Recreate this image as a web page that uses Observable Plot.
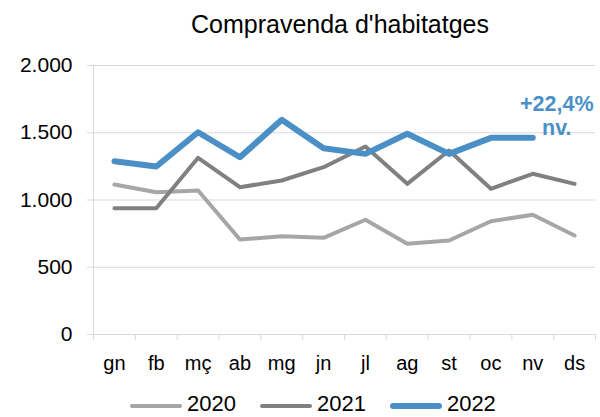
<!DOCTYPE html>
<html>
<head>
<meta charset="utf-8">
<script src="https://cdn.jsdelivr.net/npm/d3@7"></script>
<script src="https://cdn.jsdelivr.net/npm/@observablehq/plot@0.6"></script>
<style>
  html, body { margin: 0; padding: 0; background: #fff; }
  body { font-family: "Liberation Sans", Arial, sans-serif; width: 600px; height: 417px; overflow: hidden; }
  #title { width: 520px; padding-left: 80px; height: 38px; padding-top: 12px; font-size: 25px; line-height: 25px; text-align: center; color: #000; }
  #chart svg { display: block; }
  #legend { height: 32px; display: flex; align-items: center; padding-left: 130px; font-size: 22px; line-height: 22px; color: #000; box-sizing: border-box; padding-top: 5px; }
  .item { display: flex; align-items: center; margin-right: 24px; }
  .sw { width: 52px; margin-right: 5px; border-radius: 3px; position: relative; top: 2px; }
</style>
</head>
<body>
<div id="title">Compravenda d'habitatges</div>
<div id="chart"></div>
<div id="legend"></div>
<script>
const months = ["gn","fb","mç","ab","mg","jn","jl","ag","st","oc","nv","ds"];
const v2020 = [1115,1058,1071,706,731,719,853,674,699,842,890,736];
const v2021 = [939,939,1314,1095,1145,1244,1398,1120,1368,1083,1195,1120];
const v2022 = [1288,1249,1504,1318,1596,1385,1343,1492,1343,1462,1462];
const yTicks = [0,500,1000,1500,2000];
const seriesNames = ["2020","2021","2022"];
const seriesColors = ["#a6a6a6","#808080","#4a90c6"];
const seriesWidths = [4,4,6];
const annotationLines = ["+22,4%", "nv."];

const fmt = d3.formatLocale({decimal: ",", thousands: ".", grouping: [3], currency: ["", ""]}).format(",d");

const seriesValues = [v2020, v2021, v2022];
const rows = seriesValues.map((vals, s) => vals.map((v, i) => ({serie: seriesNames[s], x: i + 0.5, y: v})));
const last2022 = rows[2][rows[2].length - 1];

const plot = Plot.plot({
  width: 600,
  height: 335,
  marginLeft: 93,
  marginRight: 5,
  marginTop: 15,
  marginBottom: 51,
  style: {fontFamily: "'Liberation Sans', Arial, sans-serif", color: "#000", background: "#fff"},
  x: {type: "linear", domain: [0, months.length], axis: null, label: null},
  y: {domain: [yTicks[0], yTicks[yTicks.length - 1]], axis: null, label: null},
  marks: [
    Plot.gridY(yTicks, {stroke: "#d9d9d9", strokeOpacity: 1, strokeWidth: 1}),
    Plot.ruleX([0], {stroke: "#d9d9d9", strokeWidth: 1}),
    Plot.axisY({ticks: yTicks, tickSize: 6, tickPadding: 15, tickFormat: fmt, fontSize: 21, stroke: "#d9d9d9", fill: "#000", label: null}),
    Plot.axisX({ticks: d3.range(months.length + 1), tickSize: 6, tickFormat: () => "", stroke: "#d9d9d9", label: null}),
    Plot.axisX({ticks: months.map((m, i) => i + 0.5), tickFormat: v => months[Math.round(v - 0.5)], tickSize: 0, tickPadding: 21, fontSize: 20, fill: "#000", label: null}),
    ...rows.map((data, s) => Plot.line(data, {x: "x", y: "y", stroke: seriesColors[s], strokeWidth: seriesWidths[s], strokeLinecap: "round", strokeLinejoin: "round"})),
    Plot.text([last2022], {x: "x", y: "y", text: () => annotationLines[0], dx: 24, dy: -27, lineAnchor: "bottom", textAnchor: "middle", fontSize: 21.5, fontWeight: "bold", fill: seriesColors[2]}),
    Plot.text([last2022], {x: "x", y: "y", text: () => annotationLines[1], dx: 24, dy: -3, lineAnchor: "bottom", textAnchor: "middle", fontSize: 21.5, fontWeight: "bold", fill: seriesColors[2]})
  ]
});
document.getElementById("chart").append(plot);

const legend = document.getElementById("legend");
seriesNames.forEach((name, s) => {
  const item = document.createElement("div");
  item.className = "item";
  const sw = document.createElement("span");
  sw.className = "sw";
  sw.style.background = seriesColors[s];
  sw.style.height = (seriesWidths[s]) + "px";
  const label = document.createElement("span");
  label.textContent = name;
  item.append(sw, label);
  legend.append(item);
});
</script>
</body>
</html>
